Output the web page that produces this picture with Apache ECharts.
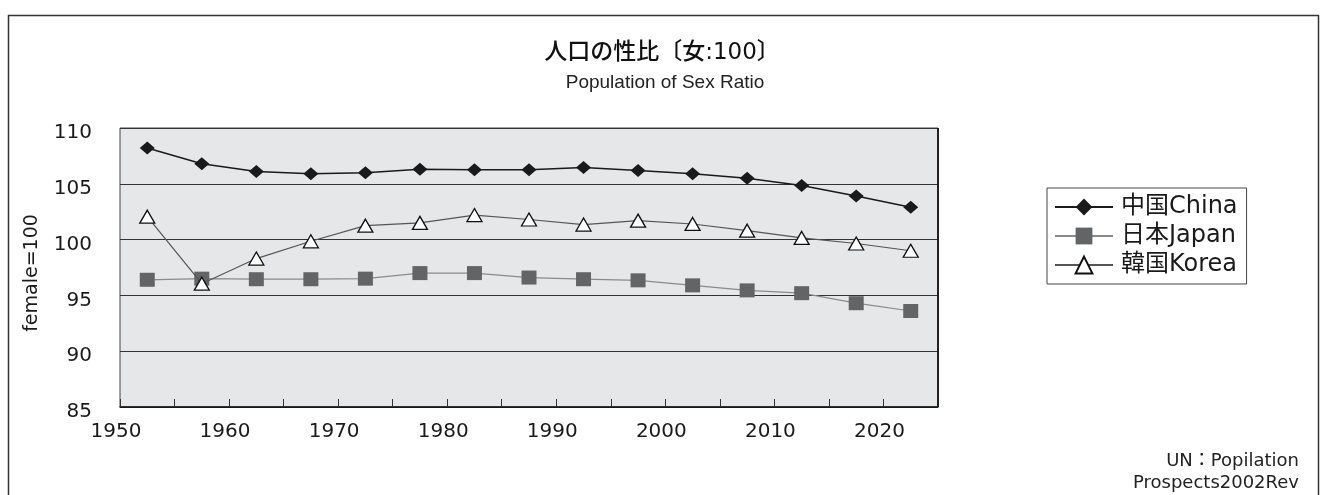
<!DOCTYPE html>
<html>
<head>
<meta charset="utf-8">
<script src="https://cdn.jsdelivr.net/npm/echarts@6/dist/echarts.min.js"></script>
<style>
html,body{margin:0;padding:0;background:#fff;}
#chart{width:1320px;height:495px;}
</style>
</head>
<body>
<div id="chart"></div>
<script>
// ---- data ----
var years = [1952.5, 1957.5, 1962.5, 1967.5, 1972.5, 1977.5, 1982.5, 1987.5, 1992.5, 1997.5, 2002.5, 2007.5, 2012.5, 2017.5, 2022.5];
var china = [108.2, 106.8, 106.1, 105.9, 106.0, 106.3, 106.25, 106.25, 106.45, 106.2, 105.9, 105.5, 104.85, 103.9, 102.9];
var japan = [96.4, 96.5, 96.45, 96.45, 96.5, 97.0, 97.0, 96.6, 96.45, 96.35, 95.9, 95.45, 95.2, 94.3, 93.6];
var korea = [102.05, 96.05, 98.3, 99.85, 101.25, 101.5, 102.2, 101.8, 101.35, 101.7, 101.4, 100.8, 100.15, 99.65, 99.0];
var seriesNames = ['中国China', '日本Japan', '韓国Korea'];
var titleText = '人口の性比〔女:100〕';
var subTitleText = 'Population of Sex Ratio';
var yAxisName = 'female=100';
var sourceLines = ['UN：Popilation', 'Prospects2002Rev'];

function pairs(vals) { return years.map(function (y, i) { return [y, vals[i]]; }); }

var chart = echarts.init(document.getElementById('chart'), null, {renderer: 'canvas'});
var numFont = '"DejaVu Sans", "Noto Sans CJK JP", sans-serif';
var option = {
  backgroundColor: '#ffffff',
  animation: false,
  title: [
    {text: titleText, left: 657, top: 37, textAlign: 'center',
     textStyle: {fontFamily: numFont, fontSize: 23, fontWeight: 500, color: '#111'}},
    {text: subTitleText, left: 660, top: 68, textAlign: 'center',
     textStyle: {fontFamily: '"Liberation Sans", Arial, sans-serif', fontSize: 19, fontWeight: 'normal', color: '#222'}}
  ],
  grid: {left: 120, right: 382, top: 128, bottom: 88, show: true, backgroundColor: '#e6e7e8', borderColor: '#444', borderWidth: 1},
  legend: {
    orient: 'vertical', left: 1047, top: 188,
    data: seriesNames,
    itemWidth: 58, itemHeight: 21, itemGap: 5,
    padding: [7, 9, 7, 7],
    borderColor: '#444', borderWidth: 1, backgroundColor: '#fff',
    textStyle: {fontFamily: numFont, fontSize: 24, color: '#1a1a1a', padding: [0, 0, 0, 3]}
  },
  xAxis: {
    type: 'value', min: 1950, max: 2025, interval: 5,
    axisLine: {show: true, lineStyle: {color: '#111', width: 1.5}},
    axisTick: {show: true, inside: true, length: 8, lineStyle: {color: '#333', width: 1}},
    splitLine: {show: false},
    axisLabel: {
      margin: 15, fontFamily: numFont, fontSize: 20, color: '#1a1a1a', padding: [0, 8, 0, 0],
      formatter: function (v) { return (v % 10 === 0) ? String(v) : ''; }
    }
  },
  yAxis: {
    type: 'value', min: 85, max: 110, interval: 5,
    axisLine: {show: false}, axisTick: {show: false},
    splitLine: {show: true, lineStyle: {color: '#333', width: 1}},
    axisLabel: {margin: 28, fontFamily: numFont, fontSize: 20, color: '#1a1a1a', verticalAlign: 'top', lineHeight: 10}
  },
  graphic: [
    {type: 'rect', left: 6, top: 13, shape: {width: 1310, height: 520}, style: {fill: 'none', stroke: '#333', lineWidth: 1.5}, silent: true, z: -10},
    {type: 'line', shape: {x1: 938, y1: 128, x2: 938, y2: 407}, style: {stroke: '#222', lineWidth: 2}, silent: true, z: 5},
    {type: 'text', x: 32, y: 273, rotation: Math.PI / 2,
     style: {text: yAxisName, font: '19px "DejaVu Sans", sans-serif', fill: '#1a1a1a', textAlign: 'center', textVerticalAlign: 'middle'}},
    {type: 'text', x: 1299, y: 450,
     style: {text: sourceLines.join('\n'), font: '18px "DejaVu Sans", "Noto Sans CJK JP", sans-serif', fill: '#222', textAlign: 'right', lineHeight: 22}}
  ],
  series: [
    {name: seriesNames[1], type: 'line', data: pairs(japan), z: 2,
     symbol: 'rect', symbolSize: [15, 14],
     lineStyle: {color: '#8a8a8a', width: 1.2},
     itemStyle: {color: '#636466', borderWidth: 0}},
    {name: seriesNames[2], type: 'line', data: pairs(korea), z: 3,
     symbol: 'triangle', symbolSize: [15, 13],
     lineStyle: {color: '#555', width: 1.2},
     itemStyle: {color: '#ffffff', borderColor: '#111', borderWidth: 1.3}},
    {name: seriesNames[0], type: 'line', data: pairs(china), z: 4,
     symbol: 'diamond', symbolSize: [15, 13],
     lineStyle: {color: '#1a1a1a', width: 1.5},
     itemStyle: {color: '#1a1a1a', borderWidth: 0}}
  ]
};
chart.setOption(option);
</script>
</body>
</html>
